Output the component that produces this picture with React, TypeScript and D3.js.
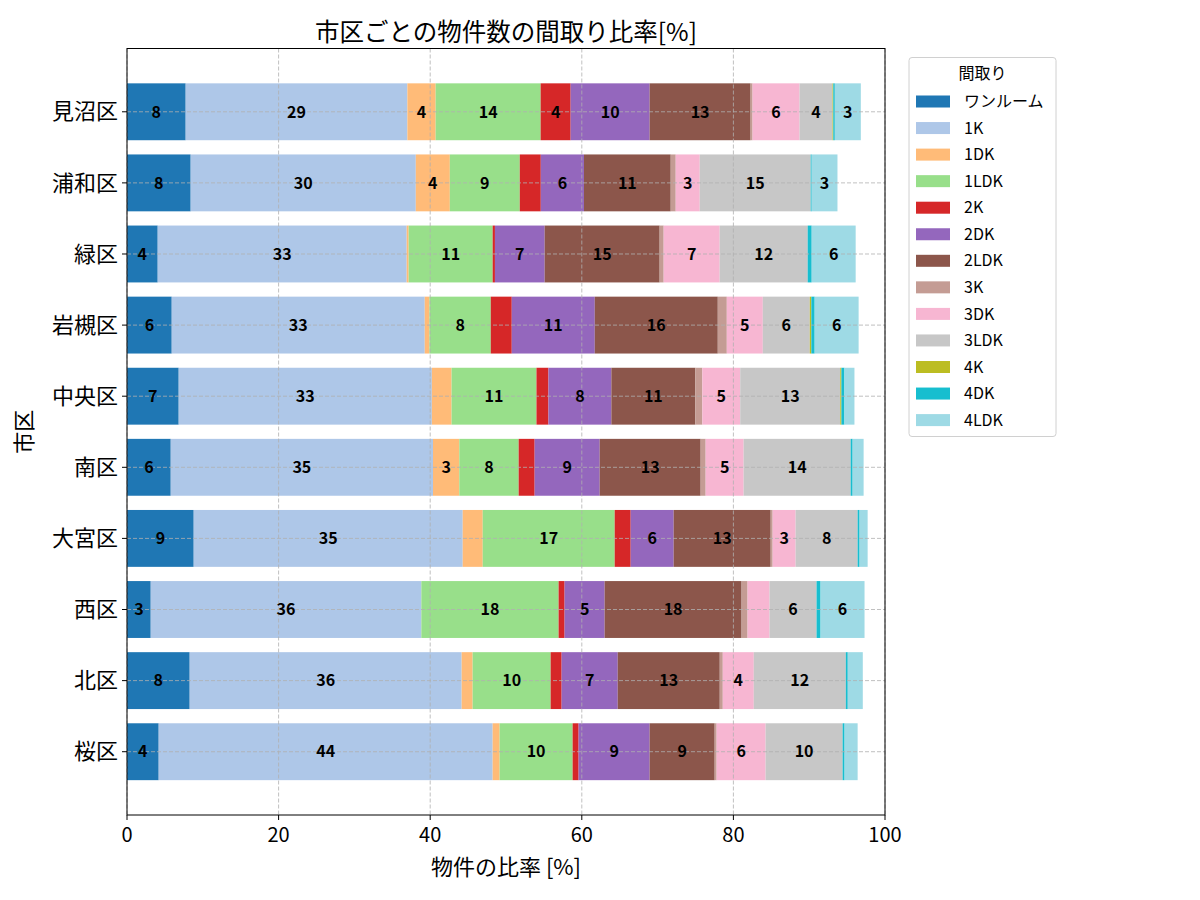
import React from "react";
import * as d3 from "d3";

// 市区 (top to bottom)
const wards = ["見沼区", "浦和区", "緑区", "岩槻区", "中央区", "南区", "大宮区", "西区", "北区", "桜区"];
const layouts = ["ワンルーム", "1K", "1DK", "1LDK", "2K", "2DK", "2LDK", "3K", "3DK", "3LDK", "4K", "4DK", "4LDK"];
const colors = [
  "#1f77b4", "#aec7e8", "#ffbb78", "#98df8a", "#d62728", "#9467bd", "#8c564b",
  "#c49c94", "#f7b6d2", "#c7c7c7", "#bcbd22", "#17becf", "#9edae5",
];
const xTicks = [0, 20, 40, 60, 80, 100];

// share [%] per layout, same order as `layouts`
const minuma = [7.74, 29.25, 3.73, 13.85, 3.96, 10.42, 13.32, 0.26, 6.2, 4.35, 0.1, 0.2, 3.43];
const urawa = [8.4, 29.7, 4.49, 9.23, 2.77, 5.7, 11.44, 0.66, 3.17, 14.64, 0, 0.13, 3.4];
const midori = [4.05, 32.85, 0.26, 11.08, 0.3, 6.56, 15.17, 0.53, 7.39, 11.61, 0, 0.53, 5.8];
const iwatsuki = [5.9, 33.38, 0.62, 8.09, 2.77, 10.95, 16.23, 1.19, 4.75, 6.2, 0.2, 0.44, 5.8];
const chuo = [6.82, 33.4, 2.6, 11.2, 1.58, 8.3, 11.08, 0.92, 5.0, 13.2, 0.15, 0.4, 1.32];
const minami = [5.77, 34.6, 3.47, 7.83, 2.11, 8.58, 13.32, 0.66, 5.01, 14.12, 0, 0.26, 1.45];
const omiya = [8.8, 35.49, 2.64, 17.41, 2.11, 5.67, 12.8, 0.26, 3.03, 8.18, 0, 0.26, 1.06];
const nishi = [3.13, 35.7, 0, 18.11, 0.79, 5.28, 18.07, 0.79, 2.9, 6.2, 0, 0.53, 5.8];
const kita = [8.27, 35.88, 1.45, 10.29, 1.45, 7.4, 13.46, 0.4, 4.09, 12.14, 0, 0.26, 1.98];
const sakura = [4.18, 44.06, 0.92, 9.63, 0.79, 9.37, 8.58, 0.26, 6.46, 10.16, 0, 0.26, 1.72];

const wardValues = [minuma, urawa, midori, iwatsuki, chuo, minami, omiya, nishi, kita, sakura];

const FONT = "'Noto Sans CJK JP', 'Noto Sans', sans-serif";

export default function App() {
  const width = 1200;
  const height = 900;
  const margin = { top: 48.5, right: 315, bottom: 85, left: 127 };
  const innerW = width - margin.left - margin.right;
  const innerH = height - margin.top - margin.bottom;

  const rows = wards.map((w, i) => {
    const r: Record<string, any> = { ward: w };
    layouts.forEach((l, j) => (r[l] = wardValues[i][j]));
    return r;
  });
  const series = d3.stack().keys(layouts)(rows as any);

  const x = d3.scaleLinear().domain([0, 100]).range([0, innerW]);
  // matplotlib style: bars 0.8 wide, 5% margins
  const n = wards.length;
  const pad = 0.05 * (n - 1 + 0.8);
  const y = d3.scaleLinear().domain([-0.4 - pad, n - 1 + 0.4 + pad]).range([0, innerH]);
  const barH = y(0.4) - y(-0.4);

  const grid = "#b0b0b0";

  return (
    <svg
      width={width}
      height={height}
      style={{ position: "absolute", left: 0, top: 0, background: "#fff" }}
      fontFamily={FONT}
    >
      <text x={margin.left + innerW / 2} y={41} textAnchor="middle" fontSize={24.5}>
        市区ごとの物件数の間取り比率[%]
      </text>
      <g transform={`translate(${margin.left},${margin.top})`}>
        {series.map((s, k) => (
          <g key={layouts[k]} fill={colors[k]}>
            {s.map((d, i) => (
              <rect key={i} x={x(d[0])} y={y(i) - barH / 2} width={Math.max(0, x(d[1]) - x(d[0]))} height={barH} />
            ))}
          </g>
        ))}
        {/* grid on top of bars */}
        {xTicks.map(t => (
          <line key={t} x1={x(t)} x2={x(t)} y1={0} y2={innerH} stroke={grid} strokeWidth={0.8} strokeDasharray="4,2" />
        ))}
        {wards.map((w, i) => (
          <line key={w} x1={0} x2={innerW} y1={y(i)} y2={y(i)} stroke={grid} strokeWidth={0.8} strokeDasharray="4,2" />
        ))}
        {series.map((s, k) =>
          s.map((d, i) => {
            const v = d[1] - d[0];
            if (v < 3) return null;
            return (
              <text
                key={`${k}-${i}`}
                x={x((d[0] + d[1]) / 2)}
                y={y(i)}
                dy="0.36em"
                textAnchor="middle"
                fontSize={16}
                fontWeight="bold"
              >
                {Math.round(v)}
              </text>
            );
          })
        )}
        <rect x={0} y={0} width={innerW} height={innerH} fill="none" stroke="#000" strokeWidth={1} />
        {xTicks.map(t => (
          <g key={t} transform={`translate(${x(t)},${innerH})`}>
            <line y2={5} stroke="#000" />
            <text y={27} textAnchor="middle" fontSize={20}>{t}</text>
          </g>
        ))}
        {wards.map((w, i) => (
          <g key={w} transform={`translate(0,${y(i)})`}>
            <line x2={-5} stroke="#000" />
            <text x={-9} dy="0.35em" textAnchor="end" fontSize={22}>{w}</text>
          </g>
        ))}
        <text x={innerW / 2} y={innerH + 60} textAnchor="middle" fontSize={22}>物件の比率 [%]</text>
        <text transform={`translate(${-95},${innerH / 2}) rotate(-90)`} textAnchor="middle" fontSize={22}>市区</text>
      </g>
      <g transform="translate(909,57.5)">
        <rect width={147} height={379} rx={3} fill="#fff" stroke="#d0d0d0" />
        <text x={73.5} y={21} textAnchor="middle" fontSize={16}>間取り</text>
        {layouts.map((l, k) => (
          <g key={l} transform={`translate(7,${44 + k * 26.55})`}>
            <rect width={34} height={12} y={-6} fill={colors[k]} />
            <text x={48} dy="0.35em" fontSize={16}>{l}</text>
          </g>
        ))}
      </g>
    </svg>
  );
}
